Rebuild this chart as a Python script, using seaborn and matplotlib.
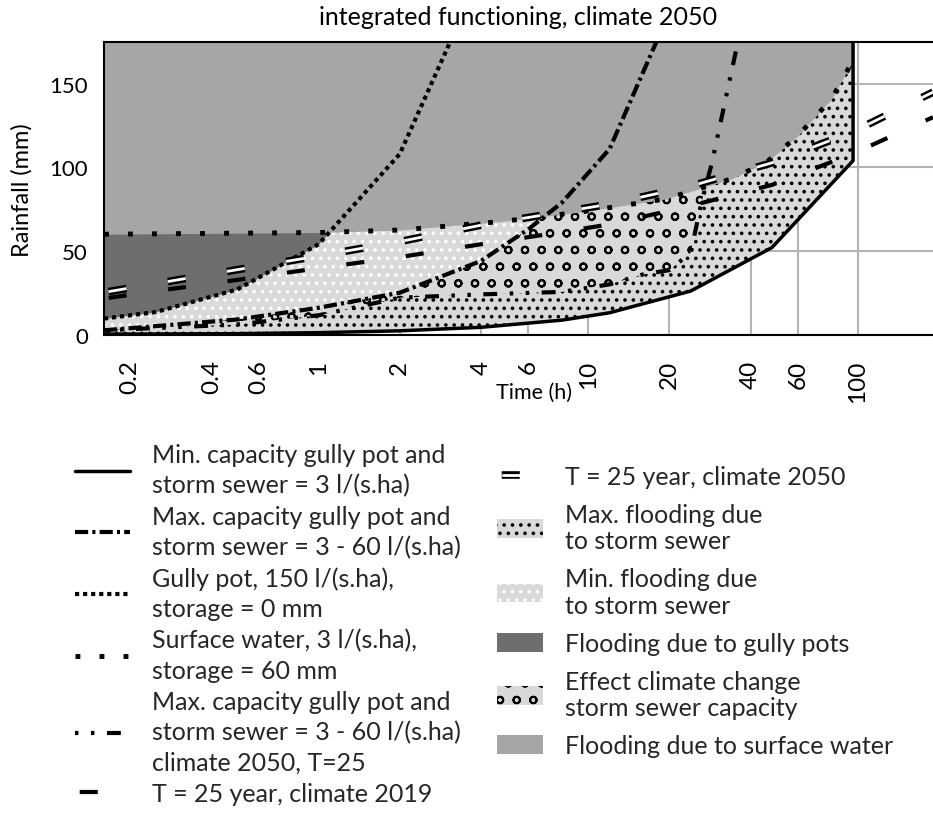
import numpy as np
import matplotlib
matplotlib.use("Agg")
import matplotlib.pyplot as plt
import matplotlib.patches as mpatches
from matplotlib.ticker import FixedLocator, FixedFormatter, NullFormatter
from matplotlib.legend_handler import HandlerTuple
import seaborn as sns

# ---------------- data ----------------
title = "integrated functioning, climate 2050"
xlabel = "Time (h)"
ylabel = "Rainfall (mm)"
x_ticks = [0.2, 0.4, 0.6, 1, 2, 4, 6, 10, 20, 40, 60, 100]
x_ticklabels = ["0.2", "0.4", "0.6", "1", "2", "4", "6", "10", "20", "40", "60", "100"]
x_minor_ticks = [0.3, 0.5, 0.7, 0.8, 0.9, 3, 5, 7, 8, 9, 30, 50, 70, 80, 90]
y_ticks = [0, 50, 100, 150]

# min. capacity gully pot and storm sewer = 3 l/(s.ha)
min_cap_t = [0.16, 0.25, 0.5, 1, 2, 4, 8, 12, 24, 48, 96, 96]
min_cap_v = [0.2, 0.3, 0.5, 1.1, 2.2, 4.3, 8.6, 13, 26, 52, 104, 176]

# max. capacity gully pot and storm sewer = 3 - 60 l/(s.ha)
max_cap_t = [0.16, 0.5, 1, 2, 4, 6, 8, 12, 18]
max_cap_v = [2.5, 9, 16, 25, 44, 63, 79, 111, 176]

# gully pot, 150 l/(s.ha), storage = 0 mm
gully_t = [0.16, 0.25, 0.5, 1, 2, 4]
gully_v = [9.5, 13.5, 27, 54, 108, 216]

# surface water, 3 l/(s.ha), storage = 60 mm
surface_t = [0.16, 1, 2, 4.7, 9.5, 19.4, 34, 46, 60, 80, 96]
surface_v = [60, 61, 62.5, 67.5, 73.4, 81.1, 93.1, 103.3, 118.9, 141, 164]

# max. capacity gully pot and storm sewer, climate 2050, T=25
cap2050_t = [0.16, 0.5, 1, 2, 4, 8, 12, 16, 20, 24, 26.3, 28.7, 36]
cap2050_v = [2.5, 6, 11.5, 22, 24, 25.5, 30, 36, 38.5, 49, 79, 102, 176]

# T = 25 year rainfall depth-duration
idf_t = [0.16, 0.25, 0.5, 1, 2, 4, 8, 12, 24, 48, 96, 190]
idf2019_v = [21.5, 26, 32.7, 39.7, 46.3, 54, 61.3, 65.9, 77, 89.5, 108.2, 130]
idf2050_v = [25.2, 30.5, 38.8, 47.0, 55.6, 65.4, 73.3, 78.0, 88.8, 102.7, 121.3, 145]

left_labels = [
    "Min. capacity gully pot and\nstorm sewer = 3 l/(s.ha)",
    "Max. capacity gully pot and\nstorm sewer = 3 - 60 l/(s.ha)",
    "Gully pot, 150 l/(s.ha),\nstorage = 0 mm",
    "Surface water, 3 l/(s.ha),\nstorage = 60 mm",
    "Max. capacity gully pot and\nstorm sewer = 3 - 60 l/(s.ha)\nclimate 2050, T=25",
    "T = 25 year, climate 2019",
]
right_labels = [
    "T = 25 year, climate 2050",
    "Max. flooding due\nto storm sewer",
    "Min. flooding due\nto storm sewer",
    "Flooding due to gully pots",
    "Effect climate change\nstorm sewer capacity",
    "Flooding due to surface water",
]

# ---------------- style ----------------
sns.set_theme(style="white")
plt.rcParams["font.family"] = ["Lato", "DejaVu Sans"]
plt.rcParams["lines.scale_dashes"] = False
plt.rcParams["hatch.linewidth"] = 1.4

LIGHT = "#d9d9d9"
MID = "#a6a6a6"
DARK = "#6e6e6e"
FS = 18
YTOP = 175

fig = plt.figure(figsize=(9.33, 8.28), dpi=100)
ax = fig.add_axes([104 / 933, 1 - 335.5 / 828, 829 / 933, 292.5 / 828])
ax.set_xscale("log")
ax.set_xlim(0.16, 190)
ax.set_ylim(0, YTOP)

# ---------------- regions (painter's order) ----------------
ax.fill_between(min_cap_t, min_cap_v, YTOP, facecolor=LIGHT, edgecolor="black",
                hatch="..", linewidth=0, zorder=1.0)
ax.fill_between(cap2050_t, cap2050_v, YTOP, facecolor=LIGHT, edgecolor="black",
                hatch="o", linewidth=0, zorder=1.1)
ax.fill_between(max_cap_t, max_cap_v, YTOP, facecolor=LIGHT, edgecolor="white",
                hatch="..", linewidth=0, zorder=1.2)
ax.fill_between(gully_t, gully_v, YTOP, facecolor=DARK, linewidth=0, zorder=1.3)
ax.fill_between(surface_t, surface_v, YTOP, facecolor=MID, linewidth=0, zorder=1.4)


def draw(t, v, **kw):
    sns.lineplot(x=t, y=v, ax=ax, estimator=None, sort=False, **kw)
    return ax.lines[-1]


l_min = draw(min_cap_t, min_cap_v, color="black", lw=2.5, zorder=3)
l_max = draw(max_cap_t, max_cap_v, color="black", lw=3,
             linestyle=(0, (9.5, 3, 2.2, 3)), zorder=3)
l_gully = draw(gully_t, gully_v, color="black", lw=3,
               linestyle=(0, (3, 2.8)), zorder=3)
l_surf = draw(surface_t, surface_v, color="black", lw=3.5,
              linestyle=(0, (3.5, 13.8)), zorder=3)
l_c50 = draw(cap2050_t, cap2050_v, color="black", lw=3,
             linestyle=(0, (2.5, 9, 2.5, 9, 10, 9)), zorder=3)
dash_idf = (39.8, (13, 30.2))
l_i19 = draw(idf_t, idf2019_v, color="black", lw=3, linestyle=dash_idf, zorder=4)
l_i50b = draw(idf_t, idf2050_v, color="black", lw=5.5, linestyle=dash_idf, zorder=4)
l_i50w = draw(idf_t, idf2050_v, color="white", lw=2.0, linestyle=dash_idf, zorder=4.1)

# ---------------- axes ----------------
ax.set_axisbelow(True)
ax.grid(True, which="major", color="#b4b4b4", linewidth=1.5)
ax.xaxis.set_major_locator(FixedLocator(x_ticks))
ax.xaxis.set_major_formatter(FixedFormatter(x_ticklabels))
ax.xaxis.set_minor_locator(FixedLocator(x_minor_ticks))
ax.xaxis.set_minor_formatter(NullFormatter())
ax.set_yticks(y_ticks)
ax.tick_params(axis="both", which="both", direction="out", length=6, width=1.3,
               color="black", labelcolor="black")
ax.tick_params(axis="x", which="major", labelrotation=90, pad=12, labelsize=17.5)
ax.tick_params(axis="y", pad=5.5, labelsize=16)
for s in ["left", "bottom", "top"]:
    ax.spines[s].set_visible(True)
    ax.spines[s].set_color("black")
    ax.spines[s].set_linewidth(1.5)
ax.spines["right"].set_visible(False)
ax.set_title(title, fontsize=FS, color="black", pad=13)
ax.set_xlabel(xlabel, fontsize=15.5, color="black")
ax.set_ylabel(ylabel, fontsize=17, color="black")
ax.xaxis.label.set_va("center")
ax.xaxis.set_label_coords(0.519, -0.197)
ax.yaxis.label.set_va("center")
ax.yaxis.set_label_coords(-0.099, 0.497)

# ---------------- legends ----------------
leg1 = fig.legend([l_min, l_max, l_gully, l_surf, l_c50, l_i19], left_labels,
                  loc="upper left", bbox_to_anchor=(75 / 933, 1 - 444 / 828),
                  frameon=False, fontsize=FS, handlelength=2.2, handletextpad=0.88,
                  labelspacing=0.32, borderpad=0, borderaxespad=0)
for t in leg1.get_texts():
    t.set_linespacing(1.385)

p_max = mpatches.Patch(facecolor=LIGHT, edgecolor="black", hatch="..", linewidth=0)
p_min = mpatches.Patch(facecolor=LIGHT, edgecolor="white", hatch="..", linewidth=0)
p_gully = mpatches.Patch(facecolor=DARK, linewidth=0)
p_clim = mpatches.Patch(facecolor=LIGHT, edgecolor="black", hatch="o", linewidth=0)
p_surf = mpatches.Patch(facecolor=MID, linewidth=0)
leg2 = fig.legend([(l_i50b, l_i50w), p_max, p_min, p_gully, p_clim, p_surf], right_labels,
                  handler_map={tuple: HandlerTuple(ndivide=1)},
                  loc="upper left", bbox_to_anchor=(497 / 933, 1 - 466 / 828),
                  frameon=False, fontsize=FS, handlelength=1.84, handletextpad=0.88,
                  handleheight=0.78, labelspacing=0.6, borderpad=0, borderaxespad=0)
for t in leg2.get_texts():
    t.set_linespacing(1.18)

fig.savefig("out.png", dpi=100)
